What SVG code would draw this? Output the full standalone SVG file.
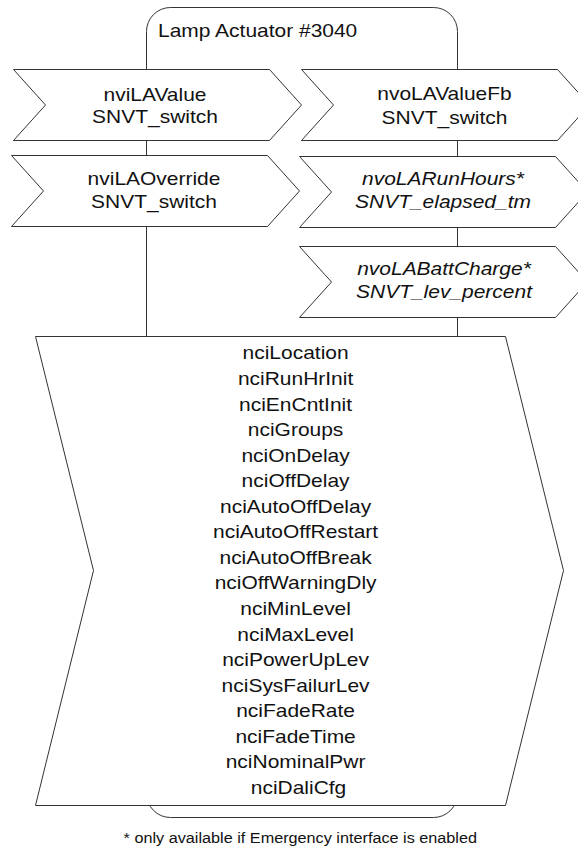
<svg xmlns="http://www.w3.org/2000/svg" width="578" height="850" viewBox="0 0 578 850">
<style>
.sh{fill:#fff;stroke:#333;stroke-width:1}
.t{font-family:"Liberation Sans",Arial,sans-serif;font-size:18px;fill:#111;text-anchor:middle}
.it{font-style:italic}
.fn{font-family:"Liberation Sans",Arial,sans-serif;font-size:14.5px;fill:#111;text-anchor:middle}
</style>
<rect width="578" height="850" fill="#fff"/>
<g id="device">
<rect class="sh" x="146.5" y="7.5" width="311" height="810" rx="24" ry="24"/>
<text class="t" style="text-anchor:start" transform="translate(158 0) scale(1.165 1)" x="0" y="37.5">Lamp Actuator #3040</text>
</g>
<g id="connectors"></g>
<g id="nviLAValue">
<polygon class="sh" points="13.5,69.5 269.5,69.5 301.5,105 269.5,140.5 13.5,140.5 45.5,105"/>
<text class="t" transform="translate(155 0) scale(1.165 1)"><tspan x="0" y="100.7">nviLAValue</tspan><tspan x="0" y="123.5">SNVT_switch</tspan></text>
</g>
<g id="nviLAOverride">
<polygon class="sh" points="11.5,155.5 267.5,155.5 299.5,191 267.5,226.5 11.5,226.5 43.5,191"/>
<text class="t" transform="translate(154 0) scale(1.165 1)"><tspan x="0" y="185">nviLAOverride</tspan><tspan x="0" y="208.3">SNVT_switch</tspan></text>
</g>
<g id="nvoLAValueFb">
<polygon class="sh" points="301.5,69.5 557.5,69.5 589.5,105 557.5,140.5 301.5,140.5 333.5,105"/>
<text class="t" transform="translate(444.5 0) scale(1.165 1)"><tspan x="0" y="100.5">nvoLAValueFb</tspan><tspan x="0" y="124">SNVT_switch</tspan></text>
</g>
<g id="nvoLARunHours">
<polygon class="sh" points="299.5,156.5 555.5,156.5 587.5,192 555.5,227.5 299.5,227.5 331.5,192"/>
<text class="t it" transform="translate(443 0) scale(1.165 1)"><tspan x="0" y="185">nvoLARunHours*</tspan><tspan x="0" y="208.3">SNVT_elapsed_tm</tspan></text>
</g>
<g id="nvoLABattCharge">
<polygon class="sh" points="299.5,246.5 555.5,246.5 587.5,282 555.5,317.5 299.5,317.5 331.5,282"/>
<text class="t it" transform="translate(444 0) scale(1.165 1)"><tspan x="0" y="275">nvoLABattCharge*</tspan><tspan x="0" y="298.3">SNVT_lev_percent</tspan></text>
</g>
<g id="nciConfig">
<polygon class="sh" points="35.5,336.5 505.5,336.5 563.5,570.5 505.5,805.5 35.5,805.5 93.5,570.5"/>
<text class="t" transform="translate(298.5 0) scale(1.165 1)">
<tspan x="0" y="359.5">nciLocation</tspan>
<tspan x="0" y="385.05">nciRunHrInit</tspan>
<tspan x="0" y="410.6">nciEnCntInit</tspan>
<tspan x="0" y="436.15">nciGroups</tspan>
<tspan x="0" y="461.7">nciOnDelay</tspan>
<tspan x="0" y="487.25">nciOffDelay</tspan>
<tspan x="0" y="512.8">nciAutoOffDelay</tspan>
<tspan x="0" y="538.35">nciAutoOffRestart</tspan>
<tspan x="0" y="563.9">nciAutoOffBreak</tspan>
<tspan x="0" y="589.45">nciOffWarningDly</tspan>
<tspan x="0" y="615">nciMinLevel</tspan>
<tspan x="0" y="640.55">nciMaxLevel</tspan>
<tspan x="0" y="666.1">nciPowerUpLev</tspan>
<tspan x="0" y="691.65">nciSysFailurLev</tspan>
<tspan x="0" y="717.2">nciFadeRate</tspan>
<tspan x="0" y="742.75">nciFadeTime</tspan>
<tspan x="0" y="768.3">nciNominalPwr</tspan>
<tspan x="0" y="793.85">nciDaliCfg</tspan>
</text>
</g>
<g id="footnote">
<text class="fn" transform="translate(300.3 0) scale(1.12 1)" x="0" y="843.3">* only available if Emergency interface is enabled</text>
</g>
</svg>
